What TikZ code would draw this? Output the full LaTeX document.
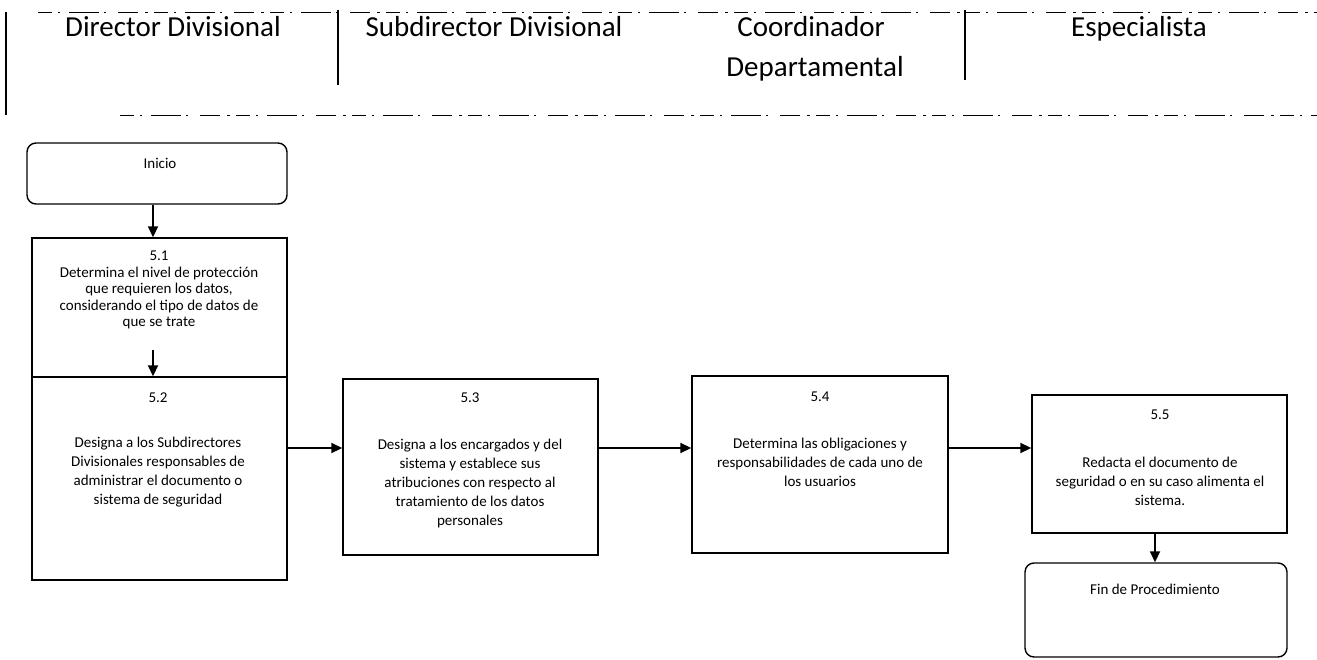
\documentclass[tikz,border=0pt]{standalone}
\usepackage{fontspec}
\setmainfont{Carlito}
\usetikzlibrary{arrows.meta}
\begin{document}
\begin{tikzpicture}[x=1pt,y=-1pt,
  lane/.style={line width=0.8pt, dash pattern=on 14pt off 6pt on 2pt off 9pt on 30pt off 5pt on 2pt off 12pt on 20pt off 7pt on 3pt off 6pt},
  sep/.style={line width=1.6pt},
  stepbox/.style={draw, line width=1.4pt, inner sep=0pt},
  endbox/.style={draw, line width=1.4pt, rounded corners=9pt, inner sep=0pt},
  head/.style={font=\fontsize{29}{33}\selectfont, anchor=base, inner sep=0pt},
  body/.style={font=\fontsize{15}{19}\selectfont, align=center, inner sep=0pt},
  flow/.style={line width=1.8pt, -{Triangle[length=11pt,width=10pt]}}]
\useasboundingbox (0,0) rectangle (1317,660);

% lane header
\coordinate (hTL) at (6,12);
\coordinate (hTS) at (38,12);
\coordinate (hTR) at (1317,12);
\coordinate (hBL) at (6,115);
\coordinate (hBS) at (120,115);
\coordinate (hBR) at (1317,115);
\draw[lane] (hTS) -- (hTR);
\draw[lane] (hBS) -- (hBR);
\draw[sep] (hTL) -- (hBL);
\coordinate (s1a) at (338,10); \coordinate (s1b) at (338,85);
\coordinate (s2a) at (965,10); \coordinate (s2b) at (965,80);
\draw[sep] (s1a) -- (s1b);
\draw[sep] (s2a) -- (s2b);
\node[head] (hd1) at (173,37) {Director Divisional};
\node[head] (hd2) at (494,37) {Subdirector Divisional};
\node[head] (hd3) at (811,37) {Coordinador};
\node[head] (hd3b) at (815,77) {Departamental};
\node[head] (hd4) at (1139,37) {Especialista};

% start
\node[endbox, minimum width=260pt, minimum height=61pt] (ini) at (157,173.5) {};
\node[body] (tini) at (160,163) {Inicio};

% 5.1 and 5.2 (stacked)
\node[stepbox, minimum width=255pt, minimum height=139pt] (b51) at (159.5,307.5) {};
\node[body, font=\fontsize{15}{16.5}\selectfont] (t51) at (159,290) {5.1\\Determina el nivel de protección\\que requieren los datos,\\considerando el tipo de datos de\\que se trate};
\node[stepbox, minimum width=255pt, minimum height=203pt] (b52) at (159.5,478.5) {};
\node[body] (t52n) at (158,398) {5.2};
\node[body] (t52) at (158,472) {Designa a los Subdirectores\\Divisionales responsables de\\administrar el documento o\\sistema de seguridad};

% 5.3
\node[stepbox, minimum width=255pt, minimum height=176pt] (b53) at (470.5,467) {};
\node[body] (t53n) at (470,398) {5.3};
\node[body] (t53) at (470,483) {Designa a los encargados y del\\sistema y establece sus\\atribuciones con respecto al\\tratamiento de los datos\\personales};

% 5.4
\node[stepbox, minimum width=256pt, minimum height=177pt] (b54) at (820,464.5) {};
\node[body] (t54n) at (820,397) {5.4};
\node[body] (t54) at (820,462) {Determina las obligaciones y\\responsabilidades de cada uno de\\los usuarios};

% 5.5
\node[stepbox, minimum width=255pt, minimum height=138pt] (b55) at (1159.5,464) {};
\node[body] (t55n) at (1160,415) {5.5};
\node[body] (t55) at (1160,481) {Redacta el documento de\\seguridad o en su caso alimenta el\\sistema.};

% end
\node[endbox, minimum width=262pt, minimum height=94pt] (fin) at (1156,610) {};
\node[body] (tfin) at (1155,589) {Fin de Procedimiento};

% connectors
\draw[flow] (ini.south -| 153,0) -- (b51.north -| 153,0);
\coordinate (a51) at (153,350);
\draw[flow] (a51) -- (b52.north -| 153,0);
\draw[flow] (b52.east |- 0,448) -- (b53.west |- 0,448);
\draw[flow] (b53.east |- 0,448) -- (b54.west |- 0,448);
\draw[flow] (b54.east |- 0,448) -- (b55.west |- 0,448);
\draw[flow] (b55.south -| 1155,0) -- (fin.north -| 1155,0);
\end{tikzpicture}
\end{document}
